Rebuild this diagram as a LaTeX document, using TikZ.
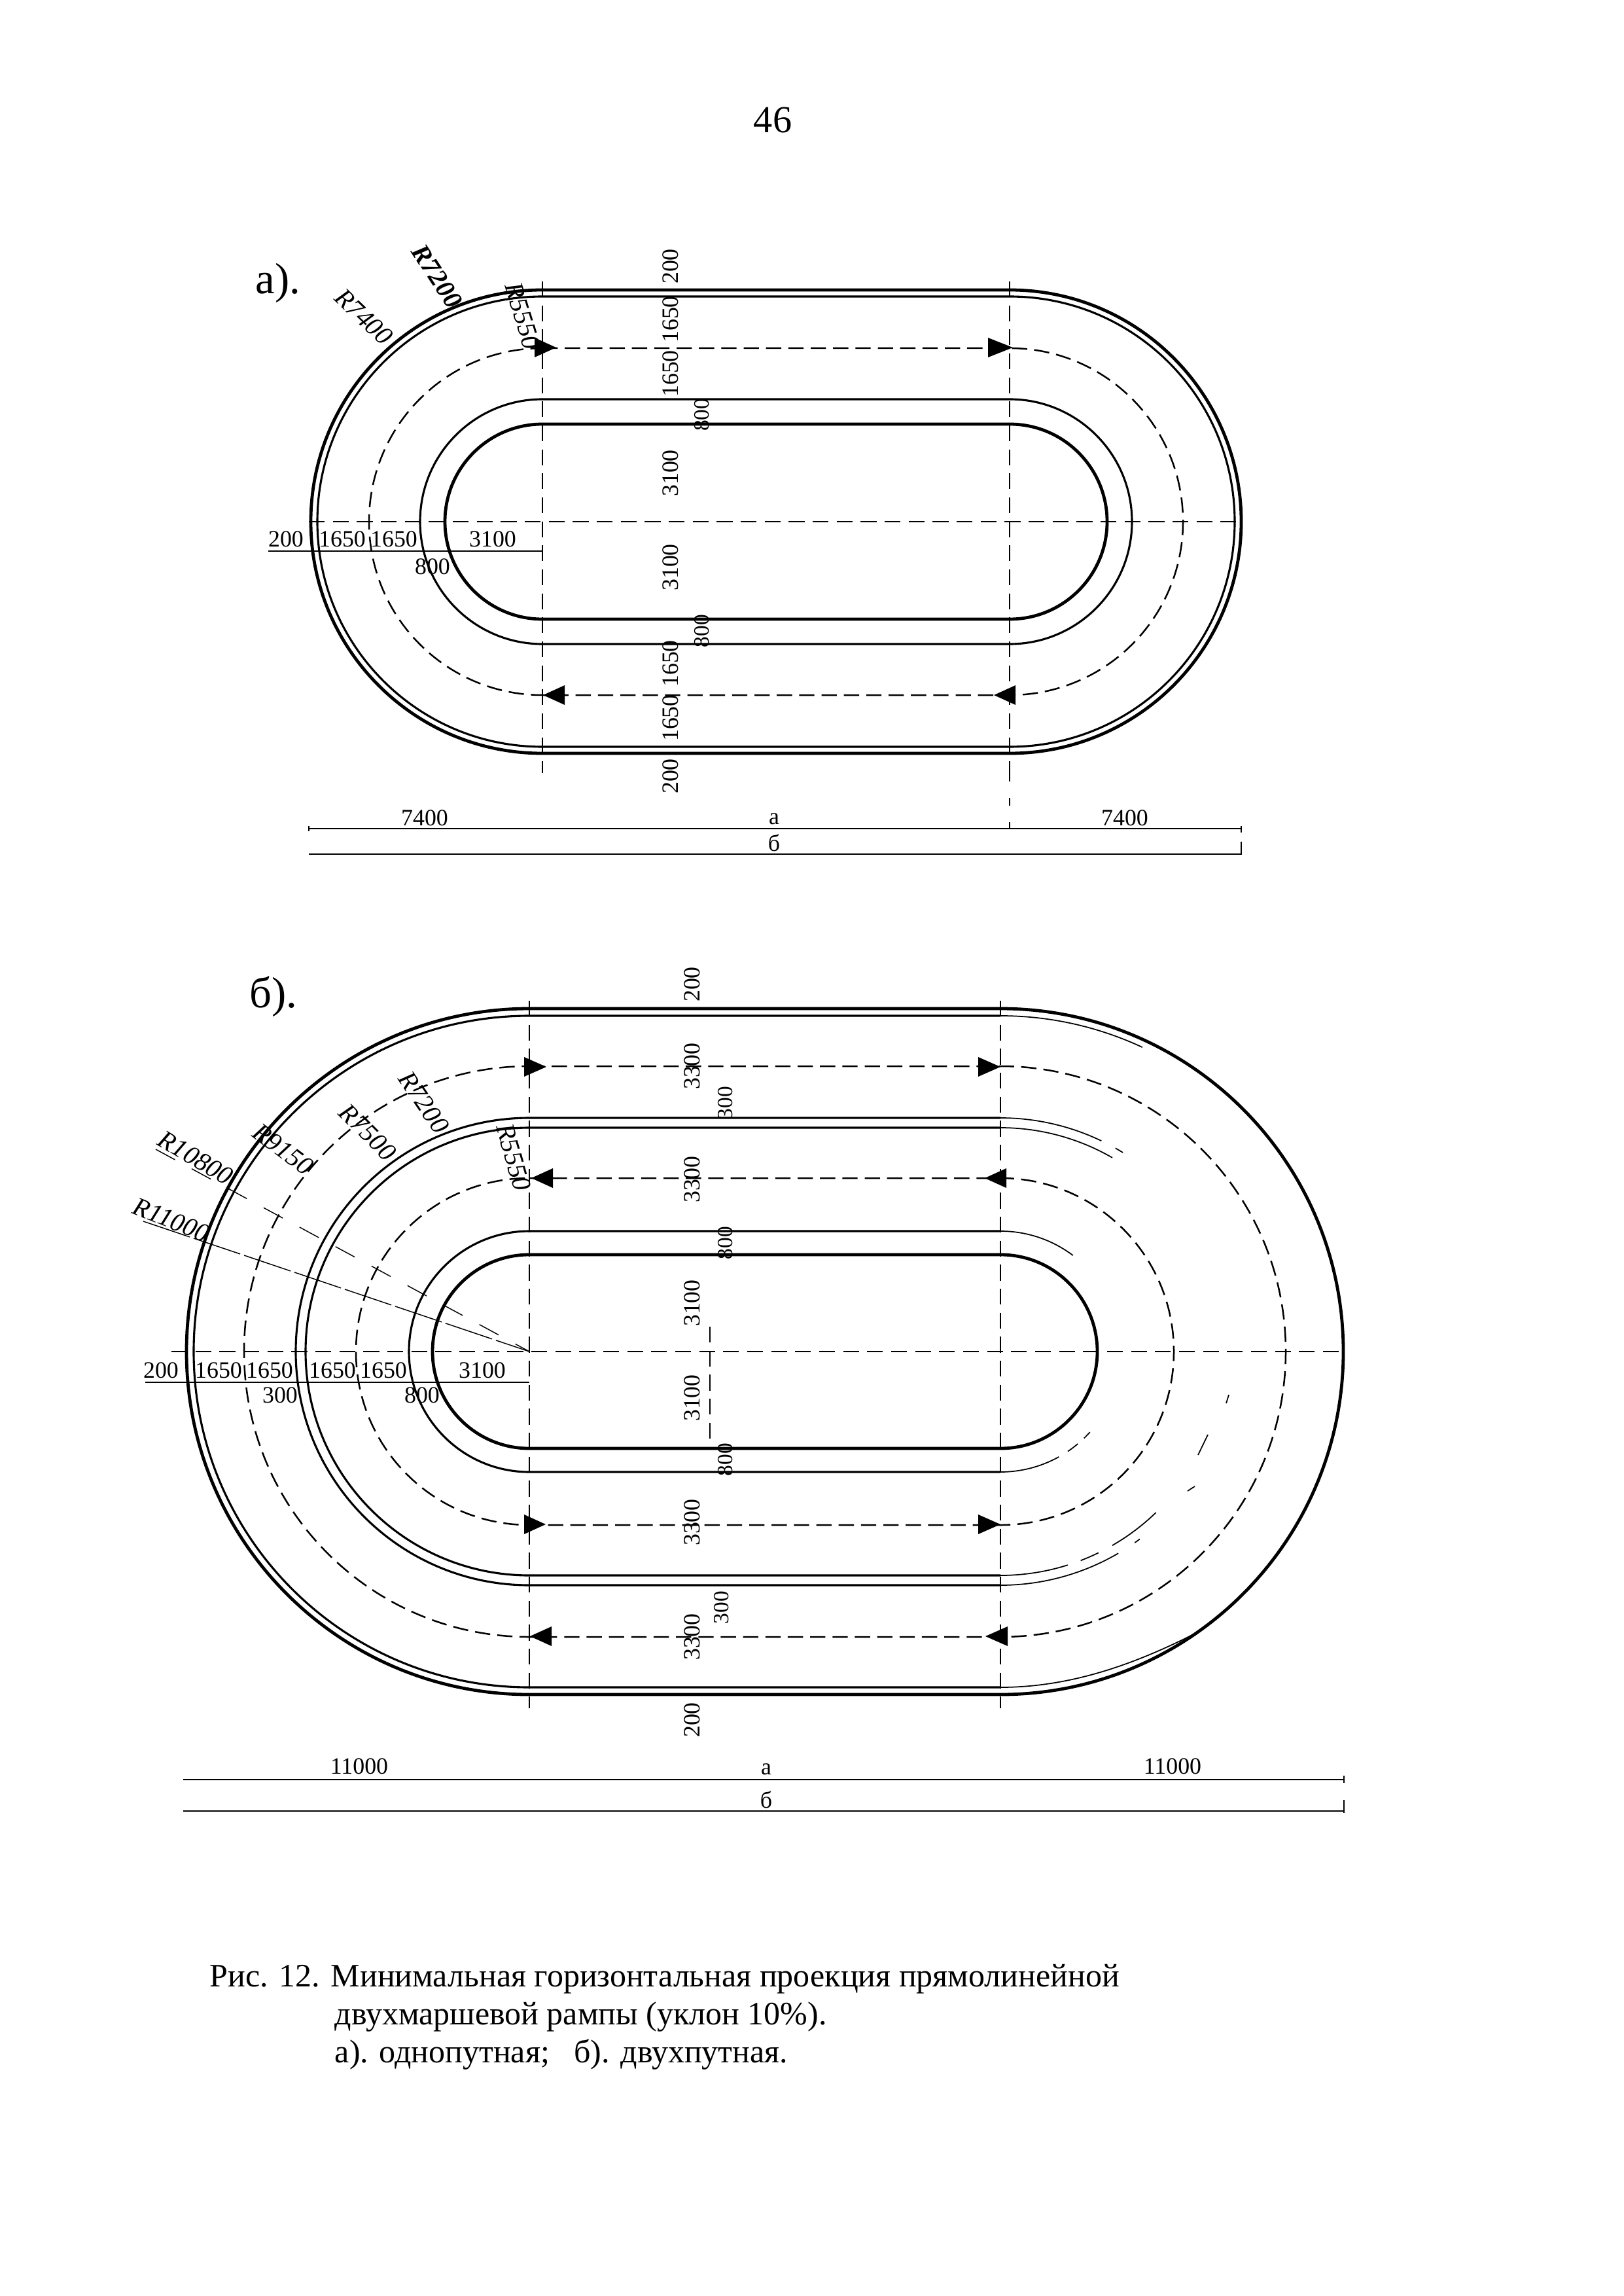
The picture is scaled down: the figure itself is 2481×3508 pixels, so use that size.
\documentclass[tikz,border=0pt]{standalone}
\usepackage{fontspec}
\setmainfont{Liberation Serif}
\tikzset{
  rimb/.style={line width=1.15pt},
  rimn/.style={line width=.75pt},
  rimh/.style={line width=.42pt},
  flow/.style={line width=.6pt,dash pattern=on 5.6pt off 2.6pt},
  axisl/.style={line width=.5pt,dash pattern=on 5.8pt off 3pt},
  axisthin/.style={line width=.38pt,dash pattern=on 5.8pt off 3pt},
  diml/.style={line width=.55pt},
  dimt/.style={inner sep=0pt,font=\fontsize{8.6}{9}\selectfont},
  vert/.style={dimt,rotate=90},
  vertsm/.style={inner sep=0pt,rotate=90,font=\fontsize{8}{8}\selectfont},
  rlab/.style={inner sep=0pt,font=\fontsize{9.6}{10}\selectfont\itshape},
  title/.style={inner sep=0pt,font=\fontsize{16}{16}\selectfont,anchor=base west},
  capt/.style={inner sep=0pt,font=\fontsize{12}{13}\selectfont,anchor=base west},
}
\newcommand{\stad}[5][]{\draw[#1] (#2,#4-#5) -- (#3,#4-#5) arc[start angle=-90,end angle=90,radius=#5] -- (#2,#4+#5) arc[start angle=90,end angle=270,radius=#5] -- cycle;}
\newcommand{\leftpart}[5][]{\draw[#1] (#3,#4-#5) -- (#2,#4-#5) arc[start angle=270,end angle=90,radius=#5] -- (#3,#4+#5);}
\newcommand{\tipr}[3]{\fill (#2,#3-15) -- (#1,#3) -- (#2,#3+15) -- cycle;}
\newcommand{\rarc}[3]{\draw[rimh] (1529,2065) ++(#2:#1) arc[start angle=#2,end angle=#3,radius=#1];}
\begin{document}
\begin{tikzpicture}[x=0.24pt,y=-0.24pt]
\useasboundingbox (0,0) rectangle (2481,3508);
\node[inner sep=0pt,font=\fontsize{14}{14}\selectfont] (pagenum) at (1181,183) {46};
% ---------- a ----------
\node[title] (labela) at (390,449) {а).};
\stad[rimb]{829}{1543}{797}{354}
\stad[rimn]{829}{1543}{797}{344}
\stad[flow]{829}{1543}{797}{265}
\stad[rimn]{829}{1543}{797}{187}
\stad[rimb]{829}{1543}{797}{149}
\coordinate (aT) at (829,430); \coordinate (aB) at (829,1181);
\coordinate (bT) at (1543,430); \coordinate (bB) at (1543,1181);
\coordinate (bE) at (1543,1266);
\coordinate (cL) at (472,797); \coordinate (cR) at (1899,797);
\draw[axisl] (aT) -- (aB);
\draw[axisl] (bT) -- (bB);
\draw[axisthin,dash pattern=on 3pt off 6pt] (bB) -- (bE);
\draw[axisl,line width=.6pt] (cL) -- (cR);
\tipr{850}{817}{531}
\tipr{1548}{1510}{531}
\tipr{830}{863}{1062}
\tipr{1519}{1552}{1062}
\coordinate (ad1) at (410,842); \coordinate (ad2) at (829,842);
\draw[diml] (ad1) -- (ad2);
\node[dimt] (a1) at (437,824) {200};
\node[dimt] (a2) at (523,824) {1650};
\node[dimt] (a3) at (602,824) {1650};
\node[dimt] (a4) at (753,824) {3100};
\node[dimt] (a5) at (661,866) {800};
\node[vert] (a6) at (1025,407) {200};
\node[vert] (a7) at (1025,488) {1650};
\node[vert] (a8) at (1025,571) {1650};
\node[vert] (a9) at (1025,723) {3100};
\node[vert] (a10) at (1025,867) {3100};
\node[vert] (a11) at (1025,1014) {1650};
\node[vert] (a12) at (1025,1097) {1650};
\node[vert] (a13) at (1025,1186) {200};
\node[vertsm] (a14) at (1073,634) {800};
\node[vertsm] (a15) at (1073,964) {800};
\node[rlab,rotate=-57,font=\fontsize{9.6}{10}\selectfont\bfseries\itshape] (a16) at (668,422) {R7200};
\node[rlab,rotate=-44] (a17) at (556,484) {R7400};
\node[rlab,rotate=-73] (a18) at (799,483) {R5550};
\coordinate (ae1) at (472,1266); \coordinate (ae2) at (1897,1266);
\coordinate (af1) at (472,1305); \coordinate (af2) at (1897,1305);
\draw[diml] (ae1) -- (ae2);
\draw[diml] (af1) -- (af2);
\draw[diml] (472,1262) -- (472,1270);
\draw[diml] (1897,1262) -- (1897,1272);
\draw[diml] (1897,1286) -- (1897,1306);
\node[dimt] (a19) at (649,1250) {7400};
\node[dimt] (a20) at (1183,1251) {а};
\node[dimt] (a21) at (1719,1250) {7400};
\node[dimt] (a22) at (1183,1288) {б};
% ---------- b ----------
\node[title] (labelb) at (381,1539) {б).};
\stad[rimb]{809}{1529}{2065}{524}
\leftpart[rimn]{809}{1529}{2065}{513}
\rarc{513}{-90}{-65}
\draw[rimh] (1529,2578) .. controls (1640,2578) and (1740,2540) .. (1830,2494);
\stad[flow]{809}{1529}{2065}{436}
\leftpart[rimn]{809}{1529}{2065}{357}
\rarc{357}{-90}{-64.4}
\rarc{357}{-60.5}{-58.4}
\rarc{357}{90}{59.7}
\rarc{357}{54.9}{53.4}
\leftpart[rimn]{809}{1529}{2065}{342}
\rarc{342}{-90}{-60}
\rarc{342}{90}{72.5}
\rarc{342}{69}{64}
\rarc{342}{60}{46}
\draw[rimh] (1846,2192) -- (1831,2223);
\draw[rimh] (1826,2271) -- (1815,2278);
\draw[rimh] (1878,2131) -- (1874,2144);
\stad[flow]{809}{1529}{2065}{265}
\leftpart[rimn]{809}{1529}{2065}{184}
\rarc{184}{-90}{-53}
\rarc{184}{90}{61}
\rarc{184}{56}{50}
\rarc{184}{46}{42}
\stad[rimb]{809}{1529}{2065}{148}
\coordinate (bbT) at (809,1529); \coordinate (bbB) at (809,2610);
\coordinate (ccT) at (1529,1529); \coordinate (ccB) at (1529,2610);
\coordinate (ddL) at (262,2065); \coordinate (ddR) at (2053,2065);
\coordinate (cen) at (809,2065);
\coordinate (l1) at (219,1866); \coordinate (l2) at (238,1756);
\coordinate (m1) at (1085,2027); \coordinate (m2) at (1085,2205);
\draw[axisthin] (bbT) -- (bbB);
\draw[axisthin] (ccT) -- (ccB);
\draw[axisl,line width=.6pt] (ddL) -- (ddR);
\draw[axisthin,line width=.3pt] (m1) -- (m2);
\draw[line width=.35pt,dash pattern=on 18pt off 1.5pt] (l1) -- (cen);
\draw[line width=.35pt,dash pattern=on 8pt off 7pt] (l2) -- (cen);
\tipr{835}{801}{1630}
\tipr{1529}{1495}{1630}
\tipr{812}{845}{1800}
\tipr{1505}{1538}{1800}
\tipr{834}{801}{2329}
\tipr{1529}{1495}{2329}
\tipr{810}{843}{2500}
\tipr{1506}{1540}{2500}
\coordinate (bd1) at (222,2112); \coordinate (bd2) at (809,2112);
\draw[diml] (bd1) -- (bd2);
\node[dimt] (b1) at (246,2094) {200};
\node[dimt] (b2) at (334,2094) {1650};
\node[dimt] (b3) at (412,2094) {1650};
\node[dimt] (b4) at (508,2094) {1650};
\node[dimt] (b5) at (586,2094) {1650};
\node[dimt] (b6) at (737,2094) {3100};
\node[dimt] (b7) at (428,2132) {300};
\node[dimt] (b8) at (645,2132) {800};
\node[vert] (b9) at (1058,1504) {200};
\node[vert] (b10) at (1058,1629) {3300};
\node[vert] (b11) at (1058,1802) {3300};
\node[vert] (b12) at (1058,1991) {3100};
\node[vert] (b13) at (1058,2136) {3100};
\node[vert] (b14) at (1058,2326) {3300};
\node[vert] (b15) at (1058,2501) {3300};
\node[vert] (b16) at (1058,2628) {200};
\node[vertsm] (b17) at (1109,1685) {300};
\node[vertsm] (b18) at (1109,1899) {800};
\node[vertsm] (b19) at (1109,2230) {800};
\node[vertsm] (b20) at (1103,2456) {300};
\node[rlab,rotate=-22] (b21) at (262,1864) {R11000};
\node[rlab,rotate=-31] (b22) at (299,1769) {R10800};
\node[rlab,rotate=-37] (b23) at (433,1756) {R9150};
\node[rlab,rotate=-45] (b24) at (562,1730) {R7500};
\node[rlab,rotate=-56] (b25) at (648,1684) {R7200};
\node[rlab,rotate=-74] (b26) at (785,1768) {R5550};
\coordinate (be1) at (280,2719); \coordinate (be2) at (2054,2719);
\coordinate (bf1) at (280,2767); \coordinate (bf2) at (2054,2767);
\draw[diml] (be1) -- (be2);
\draw[diml] (bf1) -- (bf2);
\draw[diml] (2054,2713) -- (2054,2724);
\draw[diml] (2054,2750) -- (2054,2770);
\node[dimt] (b27) at (549,2699) {11000};
\node[dimt] (b28) at (1171,2703) {а};
\node[dimt] (b29) at (1792,2699) {11000};
\node[dimt] (b30) at (1171,2750) {б};
% ---------- caption ----------
\node[capt] (c1) at (320,3035) {Рис. 12. Минимальная горизонтальная проекция прямолинейной};
\node[capt] (c2) at (511,3093) {двухмаршевой рампы (уклон 10\%).};
\node[capt] (c3) at (511,3151) {а). однопутная;\ \ \ б). двухпутная.};
\end{tikzpicture}
\end{document}
